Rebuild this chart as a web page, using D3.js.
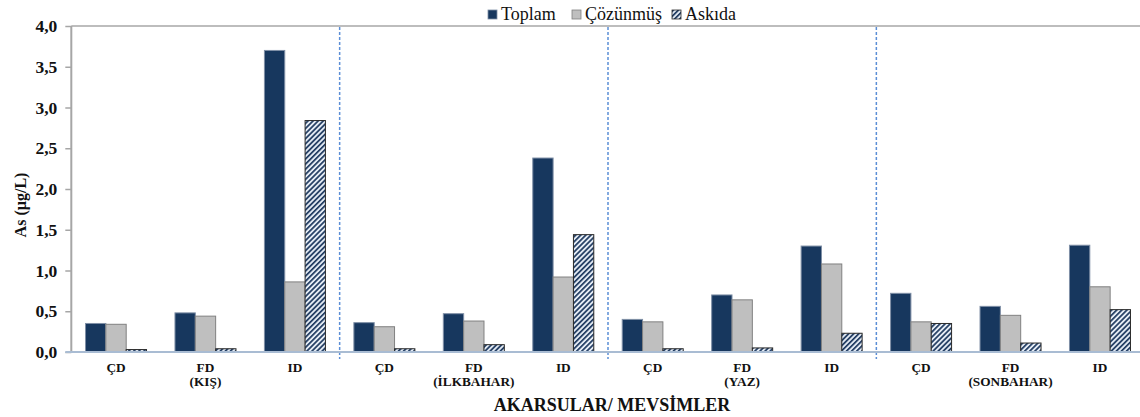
<!DOCTYPE html>
<html>
<head>
<meta charset="utf-8">
<script src="https://cdn.jsdelivr.net/npm/d3@7"></script>
<style>
  html, body { margin: 0; padding: 0; background: #fff; }
  svg { display: block; }
  text { font-family: "Liberation Serif", "Times New Roman", serif; }
</style>
</head>
<body>
<svg id="chart" width="1140" height="417"></svg>
<script>
// Stream / season groups
const streams = ["ÇD", "FD", "ID"];
const seasons = ["(KIŞ)", "(İLKBAHAR)", "(YAZ)", "(SONBAHAR)"];
const series = ["Toplam", "Çözünmüş", "Askıda"];

// As concentrations (µg/L), ordered season by season: ÇD, FD, ID
const toplam   = [0.35, 0.48, 3.70, 0.36, 0.47, 2.38, 0.40, 0.70, 1.30, 0.72, 0.56, 1.31];
const cozunmus = [0.34, 0.44, 0.86, 0.31, 0.38, 0.92, 0.37, 0.64, 1.08, 0.37, 0.45, 0.80];
const askida   = [0.03, 0.04, 2.84, 0.04, 0.09, 1.44, 0.04, 0.05, 0.23, 0.35, 0.11, 0.52];

const yTicks = [0, 0.5, 1.0, 1.5, 2.0, 2.5, 3.0, 3.5, 4.0];

const groups = [];
seasons.forEach((s, si) => streams.forEach((st, ti) => groups.push({ id: si * 3 + ti, stream: st, season: s })));
const values = [toplam, cozunmus, askida];

const svg = d3.select("#chart");
const plotLeft = 71.3, plotRight = 1144.7, plotTop = 26, plotBottom = 352;

const x = d3.scaleBand().domain(groups.map(g => g.id)).range([plotLeft, plotRight]).padding(0);
const barsWidth = 61;
const xs = d3.scaleBand().domain(series).range([0, barsWidth]).padding(0);
const y = d3.scaleLinear().domain([0, 4]).range([plotBottom, plotTop]);

// hatch pattern for the suspended fraction
const defs = svg.append("defs");
const pat = defs.append("pattern")
  .attr("id", "hatch").attr("patternUnits", "userSpaceOnUse")
  .attr("width", 3.6).attr("height", 3.6)
  .attr("patternTransform", "rotate(45)");
pat.append("rect").attr("width", 3.6).attr("height", 3.6).attr("fill", "#e4ebf4");
pat.append("rect").attr("width", 1.7).attr("height", 3.6).attr("fill", "#1f3a60");

const fills = { "Toplam": "#17375e", "Çözünmüş": "#bfbfbf", "Askıda": "url(#hatch)" };
const strokes = { "Toplam": "#7f8fa6", "Çözünmüş": "#808080", "Askıda": "#2a2a2a" };

// top border line
svg.append("line").attr("x1", plotLeft).attr("x2", 1140).attr("y1", plotTop).attr("y2", plotTop)
  .attr("stroke", "#bdbdbd").attr("stroke-width", 2);

// bars
groups.forEach(g => {
  const gx = x(g.id) + (x.bandwidth() - barsWidth) / 2;
  series.forEach((s, k) => {
    const v = values[k][g.id];
    svg.append("rect")
      .attr("x", gx + xs(s))
      .attr("y", y(v))
      .attr("width", xs.bandwidth())
      .attr("height", y(0) - y(v))
      .attr("fill", fills[s])
      .attr("stroke", strokes[s])
      .attr("stroke-width", 1);
  });
});

// season separators
[3, 6, 9].forEach(i => {
  const sx = x(i);
  svg.append("line").attr("x1", sx).attr("x2", sx).attr("y1", plotTop + 1).attr("y2", plotBottom + 7)
    .attr("stroke", "#5b8ed6").attr("stroke-width", 1.5).attr("stroke-dasharray", "3,2");
});

// y axis
const yAxis = d3.axisLeft(y).tickValues(yTicks).tickSize(6).tickPadding(8)
  .tickFormat(d => d3.format(".1f")(d).replace(".", ","));
const ya = svg.append("g").attr("transform", `translate(${plotLeft},0)`).call(yAxis);
ya.select(".domain").attr("stroke", "#a6a6a6").attr("stroke-width", 2).attr("d", `M0,${plotTop}V${plotBottom}`);
ya.selectAll(".tick line").attr("stroke", "#a6a6a6").attr("stroke-width", 1.5);
ya.selectAll(".tick text").attr("font-family", "Liberation Serif").attr("font-weight", "bold")
  .attr("font-size", 17.5).attr("fill", "#111");

// x axis baseline
svg.append("line").attr("x1", plotLeft - 6).attr("x2", 1140).attr("y1", plotBottom).attr("y2", plotBottom)
  .attr("stroke", "#a9bcd3").attr("stroke-width", 2);

// category labels
const lab = svg.append("g").attr("font-weight", "bold").attr("font-size", 13.3).attr("fill", "#111")
  .attr("text-anchor", "middle");
groups.forEach(g => {
  const cx = x(g.id) + x.bandwidth() / 2;
  lab.append("text").attr("x", cx).attr("y", 372).text(g.stream);
  if (g.stream === "FD") lab.append("text").attr("x", cx).attr("y", 385.5).text(g.season);
});

// axis titles
svg.append("text").attr("x", 612).attr("y", 411).attr("text-anchor", "middle")
  .attr("font-weight", "bold").attr("font-size", 18).attr("fill", "#111").text("AKARSULAR/ MEVSİMLER");
svg.append("text").attr("transform", "translate(26,205) rotate(-90)").attr("text-anchor", "middle")
  .attr("font-weight", "bold").attr("font-size", 16).attr("fill", "#111").text("As (µg/L)");

// legend
const legend = svg.append("g").attr("font-size", 18).attr("fill", "#111");
const legendX = [488, 572, 672];
series.forEach((s, k) => {
  const lx = legendX[k];
  legend.append("rect").attr("x", lx).attr("y", 10).attr("width", 9).attr("height", 9)
    .attr("fill", fills[s]).attr("stroke", strokes[s]).attr("stroke-width", 0.8);
  legend.append("text").attr("x", lx + 13).attr("y", 19.5).text(s);
});
</script>
</body>
</html>
